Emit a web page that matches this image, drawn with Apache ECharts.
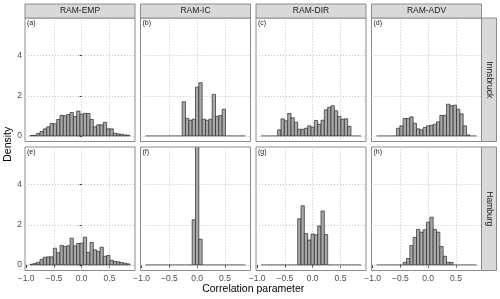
<!DOCTYPE html>
<html>
<head>
<meta charset="utf-8">
<script src="https://cdn.jsdelivr.net/npm/echarts@6/dist/echarts.min.js"></script>
<style>html,body{margin:0;padding:0;background:#fff}#c{width:500px;height:299px}</style>
</head>
<body>
<div id="c"></div>
<script>
// ---------- DATA ----------
const methods = ['RAM-EMP', 'RAM-IC', 'RAM-DIR', 'RAM-ADV'];
const sites = ['Innsbruck', 'Hamburg'];
const panelTags = ['(a)', '(b)', '(c)', '(d)', '(e)', '(f)', '(g)', '(h)'];
const binWidth = 0.06;
// 30 bin centres: -0.90, -0.84, ... 0.84
const binCenters = [-0.90,-0.84,-0.78,-0.72,-0.66,-0.60,-0.54,-0.48,-0.42,-0.36,-0.30,-0.24,-0.18,-0.12,-0.06,0.00,0.06,0.12,0.18,0.24,0.30,0.36,0.42,0.48,0.54,0.60,0.66,0.72,0.78,0.84];
const xTicks = [-1.0, -0.5, 0.0, 0.5];
const xGrid = [-0.5, 0.0, 0.5];
const yTicks = [0, 2, 4];
// densities per bin (Innsbruck row)
const densA = [0.02,0.03,0.12,0.22,0.35,0.45,0.62,0.60,0.82,1.03,1.00,1.07,1.17,0.97,1.24,1.08,1.12,1.12,0.82,0.45,0.55,0.55,0.68,0.35,0.35,0.13,0.10,0.08,0.05,0.03];
const densB = [0,0,0,0,0,0,0,0,0,0,0,1.70,0.87,0.78,0.83,2.43,2.65,0.83,0.78,0.83,2.07,0.98,1.02,1.33,0,0,0,0,0,0];
const densC = [0,0,0,0,0,0.30,0.85,0.75,1.12,0.90,0.68,0.33,0.33,0.38,0.50,0.43,0.77,0.57,0.78,1.30,1.43,1.50,1.25,0.97,0.83,0.85,0.47,0,0,0];
const densD = [0,0,0,0,0,0,0.38,0.50,0.87,0.87,0.95,0.63,0.35,0.30,0.42,0.50,0.53,0.58,0.70,1.02,1.03,1.58,1.50,1.53,1.33,1.10,0.50,0.05,0,0];
// densities per bin (Hamburg row)
const densE = [0.03,0.07,0.13,0.28,0.38,0.40,0.40,0.83,0.60,0.97,0.92,0.95,1.33,0.95,1.07,1.08,1.38,0.62,1.12,0.75,0.67,0.88,0.43,0.47,0.23,0.17,0.15,0.12,0.08,0.05];
const densF = [0,0,0,0,0,0,0,0,0,0,0,0,0,0,2.25,13.1,1.28,0,0,0,0,0,0,0,0,0,0,0,0,0];
const densG = [0,0,0,0,0,0,0,0,0,0,0,2.30,2.95,1.56,1.24,1.54,1.50,1.94,2.69,1.51,0,0,0,0,0,0,0,0,0,0];
const densH = [0,0,0,0,0,0,0,0,0.13,0.32,0.96,1.37,1.77,1.63,1.75,2.13,2.38,1.77,1.63,0.92,0.43,0.13,0.12,0,0,0,0,0,0,0];
const panelData = [densA, densB, densC, densD, densE, densF, densG, densH];

// ---------- LAYOUT ----------
const colLeft = [25, 140.5, 256, 371.5];
const panelW = 110;
const rowTop = [18, 147];
const panelH = 123.5;
const stripH = 14;
const stripW = 15;
const xRange = [-1.02, 0.96];
const yRange = [-0.28, 5.88];
const FONT = '"Liberation Sans", Arial, sans-serif';
const borderCol = '#8c8c8c';
const stripFill = '#d9d9d9';
const gridStyle = {color: '#c4c4c4', type: [1, 2], width: 1};

const chart = echarts.init(document.getElementById('c'), null, {renderer: 'canvas'});

const grids = [], xAxes = [], yAxes = [], series = [], graphics = [];
const fmtX = v => (v < 0 ? '\u2212' : '') + Math.abs(v).toFixed(1);

for (let r = 0; r < 2; r++) {
  for (let c = 0; c < 4; c++) {
    const i = r * 4 + c;
    grids.push({left: colLeft[c], top: rowTop[r], width: panelW, height: panelH,
      show: true, backgroundColor: '#fff', borderColor: borderCol, borderWidth: 1, containLabel: false});
    xAxes.push({type: 'value', gridIndex: i, min: xRange[0], max: xRange[1],
      axisLine: {show: false},
      axisTick: {show: r === 1, customValues: xTicks, length: 3, lineStyle: {color: '#333'}},
      axisLabel: {show: r === 1, customValues: xTicks, formatter: fmtX, color: '#4d4d4d', fontSize: 8.5, fontFamily: FONT, margin: 4},
      splitLine: {show: false}});
    yAxes.push({type: 'value', gridIndex: i, min: yRange[0], max: yRange[1],
      axisLine: {show: false},
      axisTick: {show: c === 0, customValues: yTicks, length: 3, lineStyle: {color: '#333'}},
      axisLabel: {show: c === 0, customValues: yTicks, color: '#4d4d4d', fontSize: 8.5, fontFamily: FONT, margin: 3},
      splitLine: {show: false}});
    // dotted major grid lines, behind the bars
    series.push({type: 'line', xAxisIndex: i, yAxisIndex: i, data: [], z: 1, silent: true,
      markLine: {silent: true, z: 1, symbol: ['none', 'none'], animation: false,
        label: {show: false}, lineStyle: gridStyle, emphasis: {disabled: true},
        data: xGrid.map(v => ({xAxis: v})).concat(yTicks.map(v => ({yAxis: v})))}});
    const dens = panelData[i];
    series.push({type: 'custom', xAxisIndex: i, yAxisIndex: i, clip: true, silent: true, z: 6,
      data: binCenters.map((b, k) => [b, dens[k]]),
      renderItem: function (params, api) {
        const cx = api.value(0), v = api.value(1);
        const p0 = api.coord([cx - binWidth / 2, 0]);
        const p1 = api.coord([cx + binWidth / 2, v]);
        if (v === 0) {
          return {type: 'line', shape: {x1: p0[0], y1: p0[1], x2: p1[0], y2: p0[1]},
            style: {stroke: '#333', lineWidth: 0.8}};
        }
        return {type: 'rect', shape: {x: p0[0], y: p1[1], width: p1[0] - p0[0], height: p0[1] - p1[1]},
          style: {fill: '#a8a8a8', stroke: '#2b2b2b', lineWidth: 0.7}};
      }});
    graphics.push({type: 'text', left: colLeft[c] + 2, top: rowTop[r] + 2, z: 100,
      style: {text: panelTags[i], font: '7px ' + FONT, fill: '#1a1a1a'}});
  }
}
// top strips
for (let c = 0; c < 4; c++) {
  graphics.push({type: 'rect', shape: {x: colLeft[c], y: rowTop[0] - stripH, width: panelW, height: stripH},
    style: {fill: stripFill, stroke: borderCol, lineWidth: 1}, z: 50});
  graphics.push({type: 'text', x: colLeft[c] + panelW / 2, y: rowTop[0] - stripH / 2, z: 60,
    style: {text: methods[c], font: '8.5px ' + FONT, fill: '#1a1a1a', align: 'center', verticalAlign: 'middle'}});
}
// right strips
const rx = colLeft[3] + panelW;
for (let r = 0; r < 2; r++) {
  graphics.push({type: 'rect', shape: {x: rx, y: rowTop[r], width: stripW, height: panelH},
    style: {fill: stripFill, stroke: borderCol, lineWidth: 1}, z: 50});
  graphics.push({type: 'text', x: rx + stripW / 2, y: rowTop[r] + panelH / 2, rotation: -Math.PI / 2, z: 60,
    style: {text: sites[r], font: '8.5px ' + FONT, fill: '#1a1a1a', align: 'center', verticalAlign: 'middle'}});
}
// axis titles
graphics.push({type: 'text', x: (colLeft[0] + colLeft[3] + panelW) / 2, y: 289, z: 60,
  style: {text: 'Correlation parameter', font: '10.5px ' + FONT, fill: '#000', align: 'center', verticalAlign: 'middle'}});
graphics.push({type: 'text', x: 8, y: (rowTop[0] + rowTop[1] + panelH) / 2, rotation: Math.PI / 2, z: 60,
  style: {text: 'Density', font: '10.5px ' + FONT, fill: '#000', align: 'center', verticalAlign: 'middle'}});

chart.setOption({
  animation: false,
  backgroundColor: '#fff',
  grid: grids, xAxis: xAxes, yAxis: yAxes, series: series, graphic: graphics
});
</script>
</body>
</html>
